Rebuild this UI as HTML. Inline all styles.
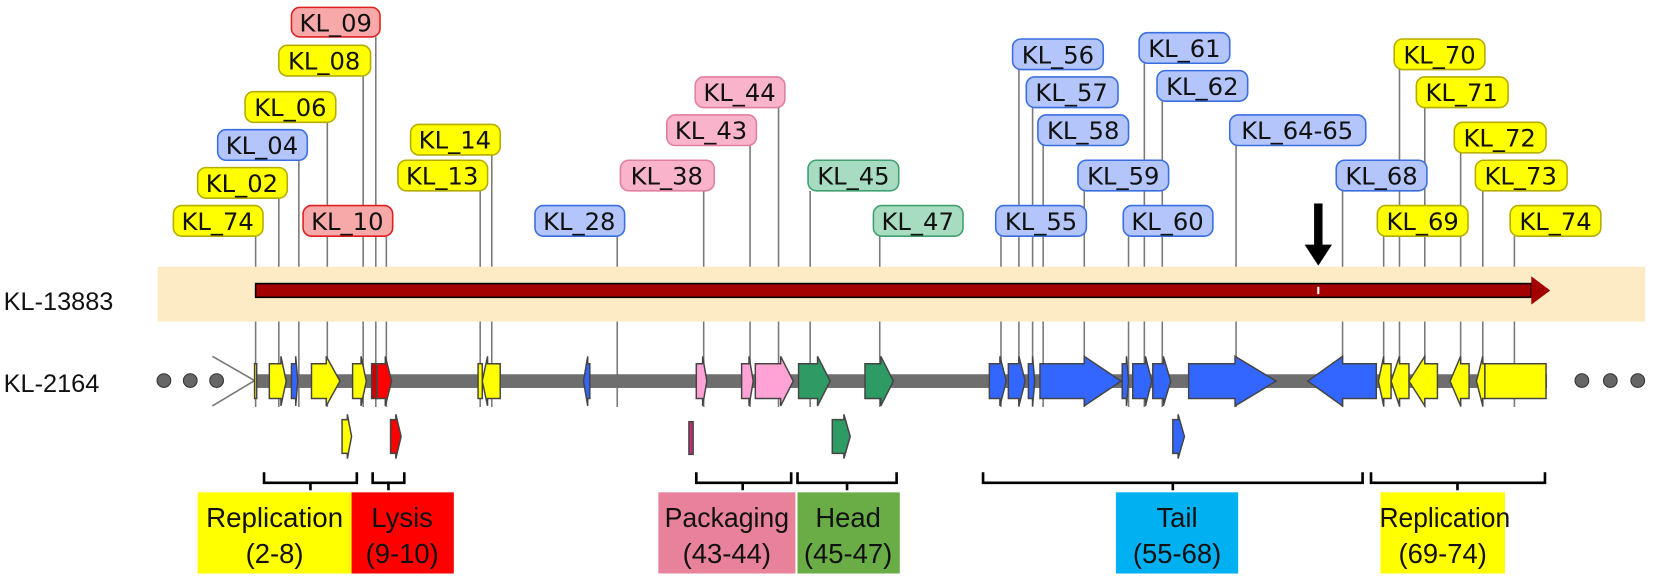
<!DOCTYPE html>
<html><head><meta charset="utf-8"><style>
html,body{margin:0;padding:0;background:#fff;}
svg{display:block;}
.lb text{font-family:"DejaVu Sans",sans-serif;font-size:23px;fill:#111;text-anchor:middle;}
.ln line{stroke:#7a7a7a;stroke-width:1.5;}
.g path,.g rect{stroke:#444;stroke-width:1.4;}
.bt{font-family:"Liberation Sans",sans-serif;font-size:26px;fill:#111;text-anchor:middle;}
</style></head><body>
<svg width="1653" height="583" viewBox="0 0 1567 553" xmlns="http://www.w3.org/2000/svg">
<g class="ln">
<line x1="242" y1="224" x2="242" y2="386"/><line x1="264" y1="188" x2="264" y2="386"/>
<line x1="283" y1="152" x2="283" y2="386"/><line x1="310" y1="116" x2="310" y2="386"/>
<line x1="344" y1="72" x2="344" y2="386"/><line x1="356" y1="35" x2="356" y2="386"/>
<line x1="366" y1="224" x2="366" y2="386"/><line x1="455" y1="181" x2="455" y2="386"/>
<line x1="466" y1="147" x2="466" y2="386"/><line x1="585" y1="224" x2="585" y2="386"/>
<line x1="667" y1="181" x2="667" y2="386"/><line x1="711" y1="138" x2="711" y2="386"/>
<line x1="738" y1="102" x2="738" y2="386"/><line x1="768" y1="181" x2="768" y2="386"/>
<line x1="834" y1="224" x2="834" y2="386"/><line x1="949" y1="224" x2="949" y2="386"/>
<line x1="966" y1="66" x2="966" y2="386"/><line x1="979" y1="102" x2="979" y2="386"/>
<line x1="989" y1="138" x2="989" y2="386"/><line x1="1028" y1="181" x2="1028" y2="386"/>
<line x1="1070" y1="224" x2="1070" y2="386"/><line x1="1085" y1="60" x2="1085" y2="386"/>
<line x1="1102" y1="96" x2="1102" y2="386"/><line x1="1172" y1="138" x2="1172" y2="386"/>
<line x1="1273" y1="181" x2="1273" y2="386"/><line x1="1312" y1="224" x2="1312" y2="386"/>
<line x1="1327" y1="66" x2="1327" y2="386"/><line x1="1351" y1="102" x2="1351" y2="386"/>
<line x1="1385" y1="145" x2="1385" y2="386"/><line x1="1406" y1="181" x2="1406" y2="386"/>
<line x1="1436" y1="224" x2="1436" y2="386"/>
</g>
<rect x="149" y="253" width="1411" height="52" fill="#fdebc6"/>
<rect x="242" y="269" width="1210" height="13" fill="#a30000" stroke="#000" stroke-width="1.5"/>
<polygon points="1452,262 1470,275.5 1452,289" fill="#a30000"/>
<rect x="1249" y="272" width="2" height="7" fill="#fff"/>
<text x="3" y="294" font-family="Liberation Sans, sans-serif" font-size="24" fill="#111">KL-13883</text>
<text x="3" y="372" font-family="Liberation Sans, sans-serif" font-size="24" fill="#111">KL-2164</text>
<g class="lb">
<g fill="#ffff00" stroke="#b5ac00" stroke-width="1.5">
<rect x="264" y="43" width="87" height="29" rx="8"/><rect x="232" y="87" width="86" height="29" rx="8"/>
<rect x="187" y="159" width="85" height="29" rx="8"/><rect x="164" y="195" width="85" height="29" rx="8"/>
<rect x="389" y="118" width="85" height="29" rx="8"/><rect x="377" y="152" width="85" height="29" rx="8"/>
<rect x="1306" y="195" width="86" height="29" rx="8"/><rect x="1322" y="37" width="86" height="29" rx="8"/>
<rect x="1343" y="73" width="87" height="29" rx="8"/><rect x="1379" y="116" width="87" height="29" rx="8"/>
<rect x="1399" y="152" width="87" height="29" rx="8"/><rect x="1432" y="195" width="86" height="29" rx="8"/>
</g>
<g fill="#f7a9a9" stroke="#e02020" stroke-width="1.5">
<rect x="276" y="7" width="84" height="28" rx="8"/><rect x="287" y="195" width="85" height="29" rx="8"/>
</g>
<g fill="#b3c5fa" stroke="#3a6fe0" stroke-width="1.5">
<rect x="206" y="123" width="85" height="29" rx="8"/><rect x="507" y="195" width="85" height="29" rx="8"/>
<rect x="944" y="195" width="86" height="29" rx="8"/><rect x="960" y="37" width="86" height="29" rx="8"/>
<rect x="973" y="73" width="87" height="29" rx="8"/><rect x="984" y="109" width="86" height="29" rx="8"/>
<rect x="1022" y="152" width="86" height="29" rx="8"/><rect x="1065" y="195" width="85" height="29" rx="8"/>
<rect x="1080" y="31" width="86" height="29" rx="8"/><rect x="1097" y="67" width="86" height="29" rx="8"/>
<rect x="1166" y="109" width="129" height="29" rx="8"/><rect x="1267" y="152" width="86" height="29" rx="8"/>
</g>
<g fill="#f9b4cb" stroke="#e07fa0" stroke-width="1.5">
<rect x="588" y="152" width="89" height="29" rx="8"/><rect x="632" y="109" width="85" height="29" rx="8"/>
<rect x="659" y="73" width="85" height="29" rx="8"/>
</g>
<g fill="#a8dcc0" stroke="#40a070" stroke-width="1.5">
<rect x="766" y="152" width="86" height="29" rx="8"/><rect x="828" y="195" width="85" height="29" rx="8"/>
</g>
<text x="318" y="30">KL_09</text><text x="307" y="66">KL_08</text><text x="275" y="110">KL_06</text>
<text x="248" y="146">KL_04</text><text x="229" y="182">KL_02</text><text x="206" y="218">KL_74</text>
<text x="329" y="218">KL_10</text><text x="431" y="141">KL_14</text><text x="419" y="175">KL_13</text>
<text x="549" y="218">KL_28</text><text x="632" y="175">KL_38</text><text x="674" y="132">KL_43</text>
<text x="701" y="96">KL_44</text><text x="809" y="175">KL_45</text><text x="870" y="218">KL_47</text>
<text x="987" y="218">KL_55</text><text x="1003" y="60">KL_56</text><text x="1016" y="96">KL_57</text>
<text x="1027" y="132">KL_58</text><text x="1065" y="175">KL_59</text><text x="1107" y="218">KL_60</text>
<text x="1123" y="54">KL_61</text><text x="1140" y="90">KL_62</text><text x="1230" y="132">KL_64-65</text>
<text x="1310" y="175">KL_68</text><text x="1349" y="218">KL_69</text><text x="1365" y="60">KL_70</text>
<text x="1386" y="96">KL_71</text><text x="1422" y="139">KL_72</text><text x="1442" y="175">KL_73</text>
<text x="1475" y="218">KL_74</text>
</g>
<rect x="1246" y="193" width="8" height="42" fill="#000"/>
<polygon points="1237,232 1263,232 1250,252" fill="#000"/>
<g fill="#666" stroke="#333" stroke-width="1"><circle cx="155" cy="361" r="6.5"/><circle cx="180" cy="361" r="6.5"/><circle cx="205" cy="361" r="6.5"/>
<circle cx="1500" cy="361" r="6.5"/><circle cx="1527" cy="361" r="6.5"/><circle cx="1553" cy="361" r="6.5"/></g>
<polyline points="201,338 241,361 201,385" fill="none" stroke="#777" stroke-width="1.5"/>
<rect x="243" y="355" width="1224" height="13" fill="#6e6e6e"/>
<g class="g">
<rect x="241" y="345" width="2" height="33" fill="#ffff00" stroke="none"/>
<path fill="#ffff00" d="M255 345H266V338L271 361.5L266 385V378H255Z"/>
<path fill="#3366ff" d="M276 345H280V338L282 361.5L280 385V378H276Z"/>
<path fill="#ffff00" d="M295 345H309V338L322 361.5L309 385V378H295Z"/>
<path fill="#ffff00" d="M334 345H342V338L347 361.5L342 385V378H334Z"/>
<rect x="352" y="345" width="5" height="33" fill="#cc0000"/>
<path fill="#ff0000" d="M357 345H365V338L371 361.5L365 385V378H357Z"/>
<rect x="453" y="345" width="4" height="33" fill="#ffff00"/>
<path fill="#ffff00" d="M474 345H462V338L457 361.5L462 385V378H474Z"/>
<path fill="#3366ff" d="M559 345H557V338L553 361.5L557 385V378H559Z"/>
<path fill="#ffa3d6" d="M660 345H666V338L670 361.5L666 385V378H660Z"/>
<path fill="#ffa3d6" d="M703 345H710V338L714 361.5L710 385V378H703Z"/>
<path fill="#ffa3d6" d="M716 345H740V338L752 361.5L740 385V378H716Z"/>
<path fill="#2e9a64" d="M757 345H775V338L787 361.5L775 385V378H757Z"/>
<path fill="#2e9a64" d="M820 345H835V338L847 361.5L835 385V378H820Z"/>
<path fill="#3366ff" d="M938 345H948V338L954 361.5L948 385V378H938Z"/>
<path fill="#3366ff" d="M956 345H966V338L972 361.5L966 385V378H956Z"/>
<path fill="#3366ff" d="M975 345H979V338L981 361.5L979 385V378H975Z"/>
<path fill="#3366ff" d="M986 345H1028V338L1063 361.5L1028 385V378H986Z"/>
<path fill="#3366ff" d="M1064 345H1068V338L1070 361.5L1068 385V378H1064Z"/>
<path fill="#3366ff" d="M1074 345H1086V338L1092 361.5L1086 385V378H1074Z"/>
<path fill="#3366ff" d="M1093 345H1103V338L1110 361.5L1103 385V378H1093Z"/>
<path fill="#3366ff" d="M1127 345H1171V338L1210 361.5L1171 385V378H1127Z"/>
<path fill="#3366ff" d="M1305 345H1273V338L1240 361.5L1273 385V378H1305Z"/>
<path fill="#ffff00" d="M1319 345H1312V338L1307 361.5L1312 385V378H1319Z"/>
<path fill="#ffff00" d="M1336 345H1327V338L1319 361.5L1327 385V378H1336Z"/>
<path fill="#ffff00" d="M1363 345H1351V338L1336 361.5L1351 385V378H1363Z"/>
<path fill="#ffff00" d="M1393 345H1385V338L1375 361.5L1385 385V378H1393Z"/>
<path fill="#ffff00" d="M1408 345H1406V338L1400 361.5L1406 385V378H1408Z"/>
<rect x="1408" y="345" width="58" height="33" fill="#ffff00"/>
<path fill="#ffff00" d="M324 398H329V393L333 414L329 435V430H324Z"/>
<path fill="#ff0000" d="M370 398H375V393L380 414L375 435V430H370Z"/>
<rect x="653" y="400" width="4" height="31" fill="#c0307a"/>
<path fill="#2e9a64" d="M789 398H800V393L806 414L800 435V430H789Z"/>
<path fill="#3366ff" d="M1112 398H1117V393L1123 414L1117 435V430H1112Z"/>
</g>
<g fill="none" stroke="#000" stroke-width="2.5">
<path d="M250 448V458H338V448M294 458V465"/>
<path d="M353 448V458H383V448M368 458V465"/>
<path d="M660 448V458H750V448M704 458V465"/>
<path d="M756 448V458H850V448M803 458V465"/>
<path d="M932 448V458H1292V448M1112 458V465"/>
<path d="M1300 448V458H1465V448M1382 458V465"/>
</g>
<rect x="187" y="467" width="146" height="77" fill="#ffff00"/>
<rect x="333" y="467" width="97" height="77" fill="#ff0000"/>
<rect x="624" y="467" width="130" height="77" fill="#e8829b"/>
<rect x="756" y="467" width="97" height="77" fill="#6aad46"/>
<rect x="1058" y="467" width="116" height="77" fill="#00b0f0"/>
<rect x="1309" y="467" width="118" height="77" fill="#ffff00"/>
<text class="bt" x="260" y="500" textLength="130" lengthAdjust="spacingAndGlyphs">Replication</text><text class="bt" x="260" y="534">(2-8)</text>
<text class="bt" x="381" y="500">Lysis</text><text class="bt" x="381" y="534">(9-10)</text>
<text class="bt" x="689" y="500" textLength="118" lengthAdjust="spacingAndGlyphs">Packaging</text><text class="bt" x="689" y="534">(43-44)</text>
<text class="bt" x="804" y="500">Head</text><text class="bt" x="804" y="534">(45-47)</text>
<text class="bt" x="1116" y="500">Tail</text><text class="bt" x="1116" y="534">(55-68)</text>
<text class="bt" x="1370" y="500" textLength="124" lengthAdjust="spacingAndGlyphs">Replication</text><text class="bt" x="1368" y="534">(69-74)</text>
</svg>
</body></html>
